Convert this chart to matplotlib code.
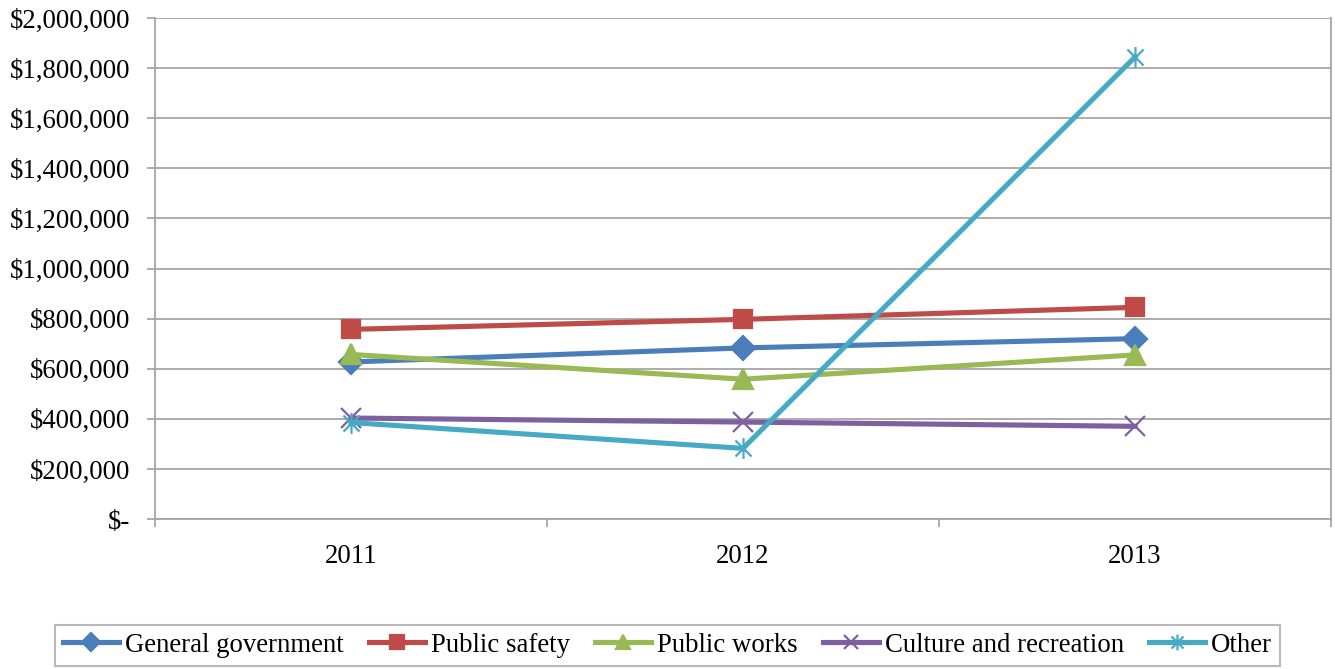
import matplotlib.pyplot as plt
import matplotlib.ticker as mticker
from matplotlib.path import Path

# data
years = ["2011", "2012", "2013"]
general_government = [627000, 683000, 720000]
public_safety = [757000, 797000, 845000]
public_works = [657000, 558000, 655000]
culture_recreation = [403000, 387000, 370000]
other = [385000, 282000, 1844000]

labels = ["General government", "Public safety", "Public works",
          "Culture and recreation", "Other"]

plt.rcParams["font.family"] = ["Liberation Serif", "DejaVu Serif"]

# Excel style asterisk: X plus vertical bar
star = Path([(-1, -1), (1, 1), (-1, 1), (1, -1), (0, -1.3), (0, 1.3)],
            [Path.MOVETO, Path.LINETO, Path.MOVETO, Path.LINETO,
             Path.MOVETO, Path.LINETO])

styles = [
    ("#4A7EBB", "D", 12),
    ("#BE4B48", "s", 13),
    ("#98B954", "^", 14),
    ("#7D60A0", "x", 14),
    ("#46AAC5", star, 15),
]
series = [general_government, public_safety, public_works,
          culture_recreation, other]

fig = plt.figure(figsize=(13.35, 6.69), dpi=100)
ax = fig.add_axes([0.1161, 0.2242, 0.8809, 0.7489])

x = list(range(1, len(years) + 1))
for vals, lab, (col, mk, ms) in zip(series, labels, styles):
    ax.plot(x, vals, color=col, lw=3.7, marker=mk, markersize=ms,
            markeredgewidth=1.6, markeredgecolor=col, markerfacecolor=col,
            label=lab, solid_joinstyle="round", zorder=3)

ax.set_xlim(0.5, len(years) + 0.5)
ax.set_ylim(0, 2000000)
ax.yaxis.set_major_locator(mticker.MultipleLocator(200000))
ax.yaxis.set_major_formatter(mticker.FuncFormatter(
    lambda v, p: "$-" if v == 0 else "${:,.0f}".format(v)))
ax.grid(axis="y", color="#A6A6A6", lw=1.3, zorder=0)

# category axis: ticks between categories, labels centred
ax.set_xticks([i + 0.5 for i in range(len(years) + 1)])
ax.set_xticklabels([])
ax.set_xticks(x, minor=True)
ax.set_xticklabels(years, minor=True)
ax.tick_params(axis="x", which="minor", length=0, pad=18, labelsize=19.3)
ax.tick_params(axis="x", which="major", length=6, width=1.3, color="#A6A6A6")
ax.tick_params(axis="y", length=6, width=1.3, color="#A6A6A6",
               labelsize=19.3, pad=12)

for side in ["left", "bottom", "right"]:
    ax.spines[side].set_color("#A6A6A6")
    ax.spines[side].set_linewidth(1.3)
ax.spines["top"].set_visible(False)

leg = fig.legend(loc="center", bbox_to_anchor=(0.5, 0.0355), ncol=5,
                 fontsize=19.3, frameon=True, fancybox=False,
                 edgecolor="#A6A6A6", handlelength=2.1, handletextpad=0.2,
                 columnspacing=0.95, borderpad=0.3, markerscale=0.75)
leg.get_frame().set_linewidth(1.5)

fig.savefig("out.png", dpi=100)
